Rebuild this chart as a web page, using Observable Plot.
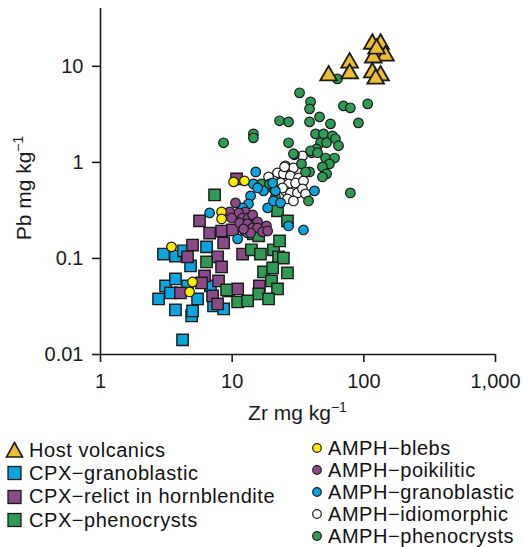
<!DOCTYPE html>
<html><head><meta charset="utf-8">
<script src="https://cdn.jsdelivr.net/npm/d3@7"></script>
<script src="https://cdn.jsdelivr.net/npm/@observablehq/plot@0.6"></script>
<style>
body{margin:0;background:#fff;font-family:"Liberation Sans",Arial,Helvetica,sans-serif;color:#111;}
#wrap{position:relative;width:523px;height:547px;overflow:hidden;}
#legend{position:absolute;left:0;top:0;width:523px;}
.col{position:absolute;}
.item{display:flex;align-items:center;font-size:20px;letter-spacing:0.55px;white-space:nowrap;}
.item svg{flex:none;}
</style></head><body><div id="wrap"><div id="chart"></div><div id="legend"></div></div>
<script>
const xTicks = [1, 10, 100, 1000];
const yTicks = [0.01, 0.1, 1, 10];

// [Zr, Pb] in mg/kg
const hostVolcanics = [[54,8.0],[78,10.9],[78,8.4],[116,17.1],[134,17.1],[129,13.8],[146,12.9],[118,12.3],[116,8.6],[134,8.0],[123,7.4],[125,15.2]];
const cpxGranoblastic = [[3.01,0.111],[3.71,0.106],[4.27,0.12],[6.39,0.132],[4.83,0.0836],[3.12,0.0517],[3.71,0.0611],[3.4,0.0437],[2.76,0.0379],[3.71,0.0291],[4.92,0.0252],[5,0.0284],[5.46,0.0379],[7.22,0.032],[8.61,0.0298],[4.2,0.0142],[4.58,0.0517],[6.84,0.0517]];
const cpxRelict = [[10.8,0.673],[5.65,0.246],[6.74,0.184],[8.31,0.193],[10.07,0.198],[8.61,0.145],[5,0.138],[4.58,0.104],[7.75,0.104],[12,0.111],[8.31,0.0815],[6.17,0.0657],[5.85,0.0556],[7.88,0.0583],[4.05,0.0437],[7.1,0.0407],[9.39,0.0459],[11,0.0481],[7.75,0.0336],[16.1,0.0517]];
const cpxPhenocrysts = [[7.35,0.458],[6.39,0.092],[11,0.0352],[9.07,0.047],[14,0.123],[16.4,0.111],[20.6,0.123],[22.5,0.104],[24.5,0.101],[22.1,0.313],[26.3,0.246],[22.9,0.152],[14.5,0.18],[15.9,0.172],[17.3,0.0723],[20.3,0.0796],[26.3,0.0706],[19.9,0.0583],[22.1,0.0481],[15.9,0.0427],[18.9,0.0379],[13.1,0.0361]];
const amphBlebs = [[10.25,0.627],[12.4,0.642],[8.31,0.305],[8.31,0.258],[3.46,0.132],[5,0.0569],[4.75,0.0448]];
const amphPoikilitic = [[10.6,0.379],[12.6,0.305],[11.2,0.298],[9.56,0.305],[9.9,0.264],[12,0.264],[13.3,0.264],[14.3,0.284],[11.4,0.234],[13.1,0.229],[15.6,0.24],[18.2,0.218],[14.3,0.208],[15.6,0.208],[13.8,0.184],[17,0.189],[18.6,0.193],[12.2,0.203]];
const amphGranoblastic = [[15.1,0.796],[14.5,0.597],[17.3,0.505],[13.8,0.448],[13.3,0.37],[12,0.336],[6.74,0.298],[18.6,0.336],[21.3,0.505],[20.6,0.397],[23.3,0.379],[42.2,0.505],[34.8,0.198],[11,0.16],[12.4,0.193],[13.1,0.184],[26.8,0.218],[15.6,0.542],[20.3,0.611]];
const amphIdiomorphic = [[34.2,1.17],[25.4,0.92],[29.2,0.877],[22.1,0.778],[24.5,0.759],[27.7,0.723],[31.9,0.69],[20.6,0.642],[23.3,0.611],[26.8,0.597],[30.3,0.611],[34.8,0.642],[25.4,0.505],[27.7,0.481],[31.3,0.481],[34.2,0.53],[26.3,0.417],[29.2,0.397],[36.1,0.47],[24.1,0.542],[18.9,0.706],[25,0.898]];
const amphPhenocrysts = [[63,7.4],[32.5,5.3],[39.4,4.27],[38.7,3.61],[70,3.88],[79,3.7],[107,4.07],[22.9,2.71],[26.8,2.64],[38.7,2.64],[46.1,2.98],[55.8,2.52],[91,2.58],[14.5,1.98],[14.5,1.8],[8.6,1.6],[26.8,1.6],[43,1.98],[49.4,1.98],[57.8,1.89],[60.9,1.76],[64.2,1.49],[46.9,1.6],[52.1,1.6],[43.7,1.38],[40.1,1.26],[29.7,1.2],[51.2,1.11],[59.9,1.11],[54.8,0.965],[48.5,0.898],[52.1,0.759],[48.5,0.706],[33.6,0.965],[38.7,0.796],[36.1,0.796],[79,0.481],[29.2,1.23],[39.4,1.32],[44.5,1.26],[16.7,0.597],[20.6,0.53],[19.2,0.597],[38,0.397],[21.3,0.437]];

const series = [
  {name:"Host volcanics", data:hostVolcanics, symbol:"triangle", fill:"#EDBE2F", r:6.2, sw:1.8, col:0},
  {name:"CPX\u2212granoblastic", data:cpxGranoblastic, symbol:"square", fill:"#0BA4DF", r:6.4, sw:1.4, col:0},
  {name:"CPX\u2212relict in hornblendite", data:cpxRelict, symbol:"square", fill:"#8A4A88", r:6.4, sw:1.4, col:0},
  {name:"CPX\u2212phenocrysts", data:cpxPhenocrysts, symbol:"square", fill:"#2F9B55", r:6.4, sw:1.4, col:0},
  {name:"AMPH\u2212blebs", data:amphBlebs, symbol:"circle", fill:"#FFEE00", r:4.8, sw:1.2, col:1},
  {name:"AMPH\u2212poikilitic", data:amphPoikilitic, symbol:"circle", fill:"#8A4A88", r:4.8, sw:1.2, col:1},
  {name:"AMPH\u2212granoblastic", data:amphGranoblastic, symbol:"circle", fill:"#0BA4DF", r:4.8, sw:1.2, col:1},
  {name:"AMPH\u2212idiomorphic", data:amphIdiomorphic, symbol:"circle", fill:"#FFFFFF", r:4.8, sw:1.2, col:1},
  {name:"AMPH\u2212phenocrysts", data:amphPhenocrysts, symbol:"circle", fill:"#2F9B55", r:4.8, sw:1.2, col:1}
];

const drawOrder = ["CPX\u2212granoblastic","CPX\u2212relict in hornblendite","CPX\u2212phenocrysts","AMPH\u2212idiomorphic","AMPH\u2212phenocrysts","AMPH\u2212granoblastic","AMPH\u2212poikilitic","AMPH\u2212blebs","Host volcanics"];

const INK = "#1a1a1a";
const dotMarks = drawOrder.map(n => series.find(s => s.name === n)).map(s =>
  Plot.dot(s.data, {x: d => d[0], y: d => d[1], symbol: s.symbol, r: s.r, fill: s.fill, stroke: INK, strokeWidth: s.sw})
);

const svg = Plot.plot({
  width: 523, height: 430,
  marginLeft: 100, marginRight: 28, marginTop: 8, marginBottom: 76,
  style: {fontFamily: '"Liberation Sans", Arial, Helvetica, sans-serif', fontSize: "20px", color: INK, background: "#fff"},
  x: {type: "log", domain: [1, 1000]},
  y: {type: "log", domain: [0.01, 40]},
  marks: [
    ...dotMarks,
    Plot.ruleX([1], {stroke: INK, strokeWidth: 1.6}),
    Plot.ruleY([0.01], {stroke: INK, strokeWidth: 1.6}),
    Plot.axisX(xTicks, {tickSize: 8, tickPadding: 11, tickFormat: d3.format(","), label: null, stroke: INK, strokeWidth: 1.6, fontSize: 20}),
    Plot.axisY(yTicks, {tickSize: 8, tickPadding: 9, tickFormat: d3.format("~g"), label: null, stroke: INK, strokeWidth: 1.6, fontSize: 20})
  ]
});
document.getElementById("chart").appendChild(svg);

// axis titles with superscripts
const xr = svg.scale("x").range, yr = svg.scale("y").range;
const sel = d3.select(svg);
const xl = sel.append("text").attr("x", (xr[0] + xr[1]) / 2).attr("y", 420)
  .attr("text-anchor", "middle").attr("fill", INK).style("font-size", "21px");
xl.append("tspan").text("Zr mg kg");
xl.append("tspan").attr("dy", -8).style("font-size", "14px").text("\u22121");
const yl = sel.append("text").attr("transform", `translate(31,${(yr[0] + yr[1]) / 2 + 7}) rotate(-90)`)
  .attr("text-anchor", "middle").attr("fill", INK).style("font-size", "21px");
yl.append("tspan").text("Pb mg kg");
yl.append("tspan").attr("dy", -8).style("font-size", "14px").text("\u22121");

// legend
const legend = d3.select("#legend");
const cols = [
  {left: 5, top: 438.5, lh: 23.3},
  {left: 311, top: 437, lh: 22}
];
cols.forEach((c, ci) => {
  const col = legend.append("div").attr("class", "col").style("left", c.left + "px").style("top", c.top + "px");
  series.filter(s => s.col === ci).forEach(s => {
    const it = col.append("div").attr("class", "item").style("height", c.lh + "px");
    const w = s.symbol === "circle" ? 12 : 19;
    const g = it.append("svg").attr("width", w).attr("height", 18).style("margin-right", "5px");
    if (s.symbol === "circle") {
      g.append("circle").attr("cx", 6).attr("cy", 9).attr("r", 4.3).attr("fill", s.fill).attr("stroke", INK).attr("stroke-width", 1.2);
    } else if (s.symbol === "square") {
      g.append("rect").attr("x", 3).attr("y", 2.5).attr("width", 13).attr("height", 13).attr("fill", s.fill).attr("stroke", INK).attr("stroke-width", 1.3);
    } else {
      g.append("path").attr("d", "M9.5,1.5 L17.5,16 L1.5,16 Z").attr("fill", s.fill).attr("stroke", INK).attr("stroke-width", 1.6).attr("stroke-linejoin", "miter");
    }
    it.append("span").text(s.name);
  });
});
</script></body></html>
